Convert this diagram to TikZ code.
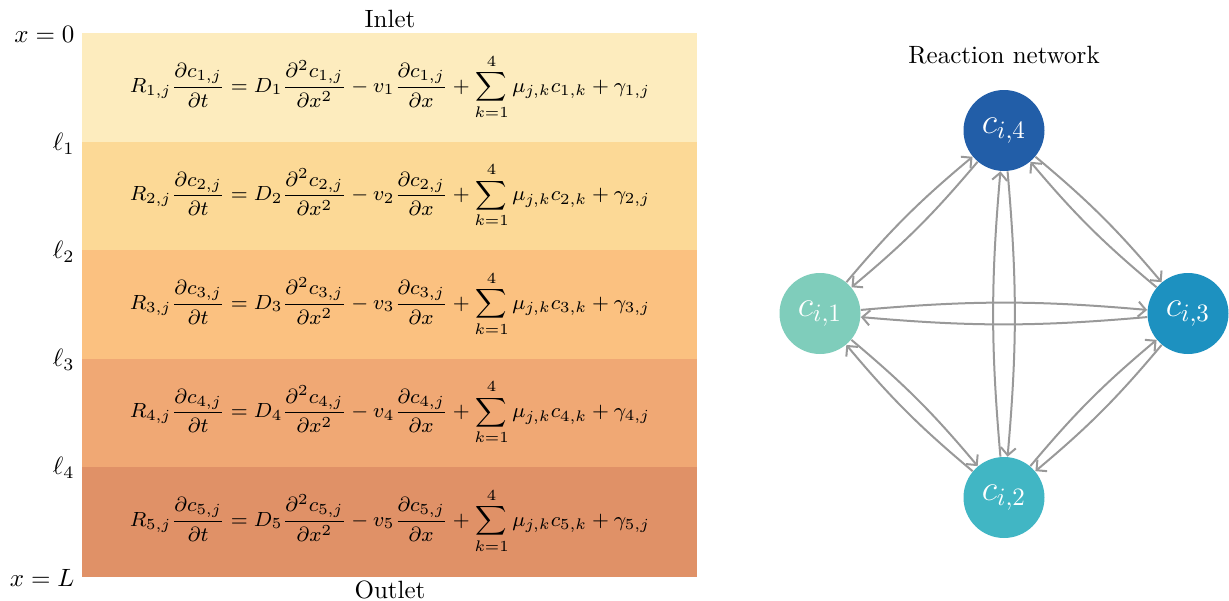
\documentclass[tikz,border=0pt]{standalone}
\usepackage{amsmath}
\usepackage{graphicx}
\usetikzlibrary{arrows.meta}
\definecolor{bandA}{HTML}{FDECBE}
\definecolor{bandB}{HTML}{FCD996}
\definecolor{bandC}{HTML}{FBC180}
\definecolor{bandD}{HTML}{F0A874}
\definecolor{bandE}{HTML}{E09167}
\definecolor{nodeA}{HTML}{7FCDBB}
\definecolor{nodeB}{HTML}{41B6C4}
\definecolor{nodeC}{HTML}{1D91C0}
\definecolor{nodeD}{HTML}{225EA8}
\definecolor{edgecol}{HTML}{999999}
\tikzset{
  species/.style={circle, inner sep=0pt, minimum size=32.4pt, text=white, font=\Large},
  rxn/.style={draw=edgecol, line width=0.8pt, -{Straight Barb[length=3pt,width=6pt]}, bend left=5},
  eqn/.style={font=\footnotesize, inner sep=0pt},
  bound/.style={anchor=east, inner sep=0pt}
}
\begin{document}
\begin{tikzpicture}[x=0.4pt,y=-0.4pt]
\useasboundingbox (0,0) rectangle (1229,601);
% bands
\fill[bandA] (82,33) rectangle (697,142);
\fill[bandB] (82,142) rectangle (697,250);
\fill[bandC] (82,250) rectangle (697,358.5);
\fill[bandD] (82,358.5) rectangle (697,467);
\fill[bandE] (82,467) rectangle (697,577);
% equations
\foreach \i/\y in {1/87,2/195.5,3/304,4/412.5,5/521}{
  \node[eqn] (e\i) at (390,\y) {\scalebox{1.024}{$\displaystyle R_{\i,j}\frac{\partial c_{\i,j}}{\partial t} = D_{\i}\frac{\partial^2 c_{\i,j}}{\partial x^2} - v_{\i}\frac{\partial c_{\i,j}}{\partial x} + \sum_{k=1}^{4}\mu_{j,k}c_{\i,k} + \gamma_{\i,j}$}};
}
% boundary labels
\node[bound] (b0) at (75,34) {$x=0$};
\node[bound] (b1) at (75,144) {$\ell_1$};
\node[bound] (b2) at (75,252) {$\ell_2$};
\node[bound] (b3) at (75,360) {$\ell_3$};
\node[bound] (b4) at (75,468) {$\ell_4$};
\node[bound] (b5) at (75,578) {$x=L$};
\node (inlet) at (390,19) {Inlet};
\node (outlet) at (390,590) {Outlet};
% network
\node (title) at (1004,55) {Reaction network};
\node[species, fill=nodeD] (c4) at (1004,130.5) {$c_{i,4}$};
\node[species, fill=nodeA] (c1) at (820,313.5) {$c_{i,1}$};
\node[species, fill=nodeC] (c3) at (1188,313.5) {$c_{i,3}$};
\node[species, fill=nodeB] (c2) at (1004,497.5) {$c_{i,2}$};
\draw[rxn] (c1) to (c4);
\draw[rxn] (c4) to (c1);
\draw[rxn] (c1) to (c3);
\draw[rxn] (c3) to (c1);
\draw[rxn] (c1) to (c2);
\draw[rxn] (c2) to (c1);
\draw[rxn] (c4) to (c3);
\draw[rxn] (c3) to (c4);
\draw[rxn] (c4) to (c2);
\draw[rxn] (c2) to (c4);
\draw[rxn] (c2) to (c3);
\draw[rxn] (c3) to (c2);
\end{tikzpicture}
\end{document}
